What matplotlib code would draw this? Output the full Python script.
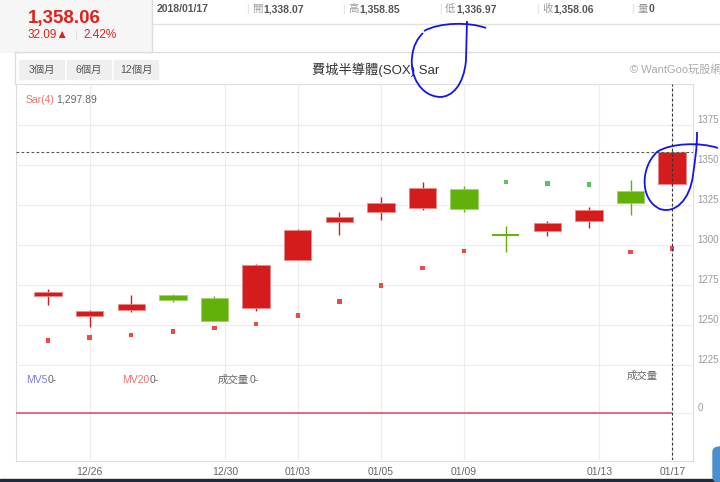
import numpy as np
import matplotlib
matplotlib.use("Agg")
import matplotlib.pyplot as plt
from matplotlib.patches import Rectangle, PathPatch, FancyBboxPatch
from matplotlib.lines import Line2D
from matplotlib.path import Path
from matplotlib.transforms import ScaledTranslation

plt.rcParams['font.family'] = ['Liberation Sans', 'Noto Sans CJK TC', 'DejaVu Sans']

# daily candles (SOX)
dates  = ['12/22', '12/26', '12/27', '12/28', '12/29', '01/02', '01/03', '01/04',
          '01/05', '01/08', '01/09', '01/10', '01/11', '01/12', '01/16', '01/17']
opens  = [1267.9, 1255.4, 1259.2, 1268.6, 1267.1, 1260.4, 1290.8, 1314.6,
          1320.6, 1322.9, 1335.0, 1306.6, 1309.0, 1314.8, 1334.0, 1338.07]
highs  = [1272.3, 1259.4, 1268.8, 1269.2, 1268.3, 1287.9, 1310.0, 1320.8,
          1330.2, 1339.2, 1337.1, 1311.9, 1314.8, 1323.9, 1340.6, 1358.85]
lows   = [1262.7, 1248.6, 1258.3, 1264.2, 1252.5, 1258.8, 1290.8, 1306.3,
          1315.6, 1321.7, 1320.8, 1295.8, 1305.6, 1310.8, 1318.6, 1336.97]
closes = [1270.8, 1258.8, 1263.1, 1265.8, 1252.5, 1287.3, 1309.6, 1317.3,
          1326.0, 1335.4, 1322.3, 1306.4, 1314.0, 1322.1, 1325.97, 1358.06]
sar    = [1240.4, 1242.3, 1243.6, 1246.0, 1248.3, 1250.8, 1256.0, 1264.6,
          1274.8, 1285.8, 1296.4, 1339.4, 1338.5, 1337.9, 1295.8, 1297.89]
volume = [0] * 16

price_ticks = [1225, 1250, 1275, 1300, 1325, 1350, 1375]
tick_pos    = [1, 4.25, 6, 8, 10, 13.25, 15]
tick_labels = ['12/26', '12/30', '01/03', '01/05', '01/09', '01/13', '01/17']

W, H = 720, 482
RED, GREEN = '#d41c1c', '#62b10a'


def fx(x):
    return x / W


def fy(y):
    return 1 - y / H


def px_rect(x0, y0, x1, y1):
    return [x0 / W, 1 - y1 / H, (x1 - x0) / W, (y1 - y0) / H]


def txt(x, y, s, **kw):
    kw.setdefault('va', 'center')
    fig.text(fx(x), fy(y), s, **kw)


def hline(x0, x1, y, color='#e2e2e2'):
    fig.add_artist(Line2D([fx(x0), fx(x1)], [fy(y), fy(y)], color=color, lw=1))


def vline(x, y0, y1, color='#dddddd'):
    fig.add_artist(Line2D([fx(x), fx(x)], [fy(y0), fy(y1)], color=color, lw=1))


fig = plt.figure(figsize=(7.2, 4.82), dpi=100)
fig.patch.set_facecolor('white')

# ---- header ----
fig.add_artist(Rectangle((0, fy(52)), fx(152), 52 / H, transform=fig.transFigure,
                         color='#f6f6f6', zorder=0))
vline(152, 0, 52)
hline(152, 720, 24)
hline(15, 720, 52, '#dddddd')
vline(15, 52, 84)

txt(28, 18, '1,358.06', fontsize=13.5, fontweight='bold', color='#e3201c')
txt(28, 35, '32.09\u25b2', fontsize=8.5, color='#e3201c')
txt(75, 35, '|', fontsize=8, color='#dddddd')
txt(83, 35, '2.42%', fontsize=8.5, color='#e3201c')

txt(157, 9, '2018/01/17', fontsize=7.5, fontweight='bold', color='#555555')
quote_chars = ['開', '高', '低', '收', '量']
quote_vals = ['1,338.07', '1,358.85', '1,336.97', '1,358.06', '0']
quote_x = [252, 348, 445, 542, 637]
for ch, val, x in zip(quote_chars, quote_vals, quote_x):
    txt(x - 6, 9, '|', fontsize=7.5, color='#dddddd')
    txt(x, 9, ch, fontsize=7.5, color='#999999')
    txt(x + 11.5, 9, val, fontsize=7.5, fontweight='bold', color='#555555')

for (x0, x1), lab in zip([(19, 64), (67, 111), (114, 158)], ['3個月', '6個月', '12個月']):
    fig.add_artist(Rectangle((fx(x0), fy(79)), fx(x1 - x0), 19 / H,
                             transform=fig.transFigure, color='#efefef'))
    txt((x0 + x1) / 2, 70, lab, fontsize=7.5, color='#555555', ha='center')

txt(312, 70, '費城半導體(SOX) Sar', fontsize=9.5, color='#333333')
txt(630, 70, '© WantGoo玩股網', fontsize=8, color='#aaaaaa')

# ---- chart frame ----
axf = fig.add_axes(px_rect(16, 84, 693, 461), zorder=0)
axf.set_xticks([])
axf.set_yticks([])
for s in axf.spines.values():
    s.set_color('#dddddd')

x_idx = np.arange(len(dates))
xlim = (-0.77, 15.5)

# ---- price panel ----
ax = fig.add_axes(px_rect(16, 84, 693, 366), zorder=1)
ax.set_facecolor('none')
for s in ax.spines.values():
    s.set_visible(False)
ax.set_xlim(xlim)
ax.set_ylim(1224.375, 1400.625)
for v in price_ticks:
    ax.axhline(v, color='#ececec', lw=0.8, zorder=0)
for t in tick_pos:
    ax.axvline(t, color='#ececec', lw=0.8, zorder=0)

w = 0.66
for i in x_idx:
    o, h, l, c = opens[i], highs[i], lows[i], closes[i]
    col = RED if c > o else GREEN
    edge = '#e88a8a' if c > o else '#9fd36a'
    ax.vlines(i, l, h, color=col, lw=1, zorder=2)
    if abs(c - o) < 0.5:
        ax.hlines(c, i - w / 2, i + w / 2, color=col, lw=1.4, zorder=3)
    else:
        ax.add_patch(Rectangle((i - w / 2, min(o, c)), w, abs(c - o),
                               facecolor=col, edgecolor=edge, lw=0.6, zorder=3))

sar_cols = ['#5bc35b' if s > c else '#f04848' for s, c in zip(sar, closes)]
ax.scatter(x_idx, sar, s=10, marker='s', c=sar_cols, lw=0, zorder=3)

ax.axhline(closes[-1], color='#555555', ls=(0, (2.5, 2)), lw=0.8, zorder=4)
ax.axvline(x_idx[-1], color='#333333', ls=(0, (2.5, 2)), lw=0.8, zorder=4)

ax.set_xticks([])
ax.yaxis.tick_right()
ax.set_yticks(price_ticks)
ax.tick_params(axis='y', length=0, pad=3, labelsize=7, labelcolor='#999999')
for lbl in ax.get_yticklabels():
    lbl.set_transform(lbl.get_transform() + ScaledTranslation(0, 0.06, fig.dpi_scale_trans))

txt(26, 100, 'Sar(4)', fontsize=7.5, color='#f07070')
txt(56, 100, '1,297.89', fontsize=7.5, color='#666666')

# ---- volume panel ----
axv = fig.add_axes(px_rect(16, 366, 693, 460), zorder=1)
axv.set_facecolor('none')
for s in axv.spines.values():
    s.set_visible(False)
axv.set_xlim(xlim)
axv.set_ylim(-1, 1)
axv.axhline(0, color='#ececec', lw=0.8, zorder=0)
for t in tick_pos:
    axv.axvline(t, color='#ececec', lw=0.8, zorder=0)
axv.bar(x_idx, volume, width=w, color=RED)
axv.hlines(volume[0], xlim[0], x_idx[-1], color='#e0606e', lw=1.3, zorder=2)
axv.axvline(x_idx[-1], color='#333333', ls=(0, (2.5, 2)), lw=0.8, zorder=4)

axv.yaxis.tick_right()
axv.set_yticks([0])
axv.tick_params(axis='y', length=0, pad=3, labelsize=7, labelcolor='#999999')
for lbl in axv.get_yticklabels():
    lbl.set_transform(lbl.get_transform() + ScaledTranslation(0, 0.06, fig.dpi_scale_trans))
axv.set_xticks(tick_pos)
axv.set_xticklabels(tick_labels)
axv.tick_params(axis='x', length=0, pad=5, labelsize=7.5, labelcolor='#666666')

txt(26, 380, 'MV5', fontsize=7.5, color='#7b7bf0')
txt(48, 380, '0-', fontsize=7.5, color='#666666')
txt(122, 380, 'MV20', fontsize=7.5, color='#f07070')
txt(150, 380, '0-', fontsize=7.5, color='#666666')
txt(218, 380, '成交量', fontsize=7.5, color='#666666')
txt(250, 380, '0-', fontsize=7.5, color='#666666')
txt(627, 376, '成交量', fontsize=7.5, color='#666666')

# ---- hand-drawn blue marks on the screenshot ----
M, L4, C4 = Path.MOVETO, Path.LINETO, Path.CURVE4
marks = [
    ([(486, 28), (470, 22), (440, 22), (424, 31)], [M, C4, C4, C4]),
    ([(467, 21), (466, 60), (464, 85), (452, 97), (440, 97), (420, 96), (410, 75),
      (412, 58), (413, 45), (418, 38), (423, 33)],
     [M, L4, C4, C4, C4, C4, C4, C4, C4, C4, C4]),
    ([(718, 148), (700, 142), (670, 143), (657, 152), (640, 168), (640, 200),
      (660, 209), (675, 214), (690, 200), (693, 175), (695, 160), (697, 150), (697, 132)],
     [M, C4, C4, C4, C4, C4, C4, C4, C4, C4, C4, C4, C4]),
]
for pts, codes in marks:
    verts = [(fx(x), fy(y)) for x, y in pts]
    fig.add_artist(PathPatch(Path(verts, codes), transform=fig.transFigure,
                             fill=False, edgecolor='#1414ee', lw=1.3, zorder=10))

# screenshot edge bits
fig.add_artist(Rectangle((0, 0), 1, 3 / H, transform=fig.transFigure, color='#1f2b38'))
fig.add_artist(FancyBboxPatch((fx(713), 0), fx(20), 35 / H, boxstyle='round,pad=0,rounding_size=0.01',
                              transform=fig.transFigure, color='#4a8fd0'))

fig.savefig('out.png', dpi=100)
